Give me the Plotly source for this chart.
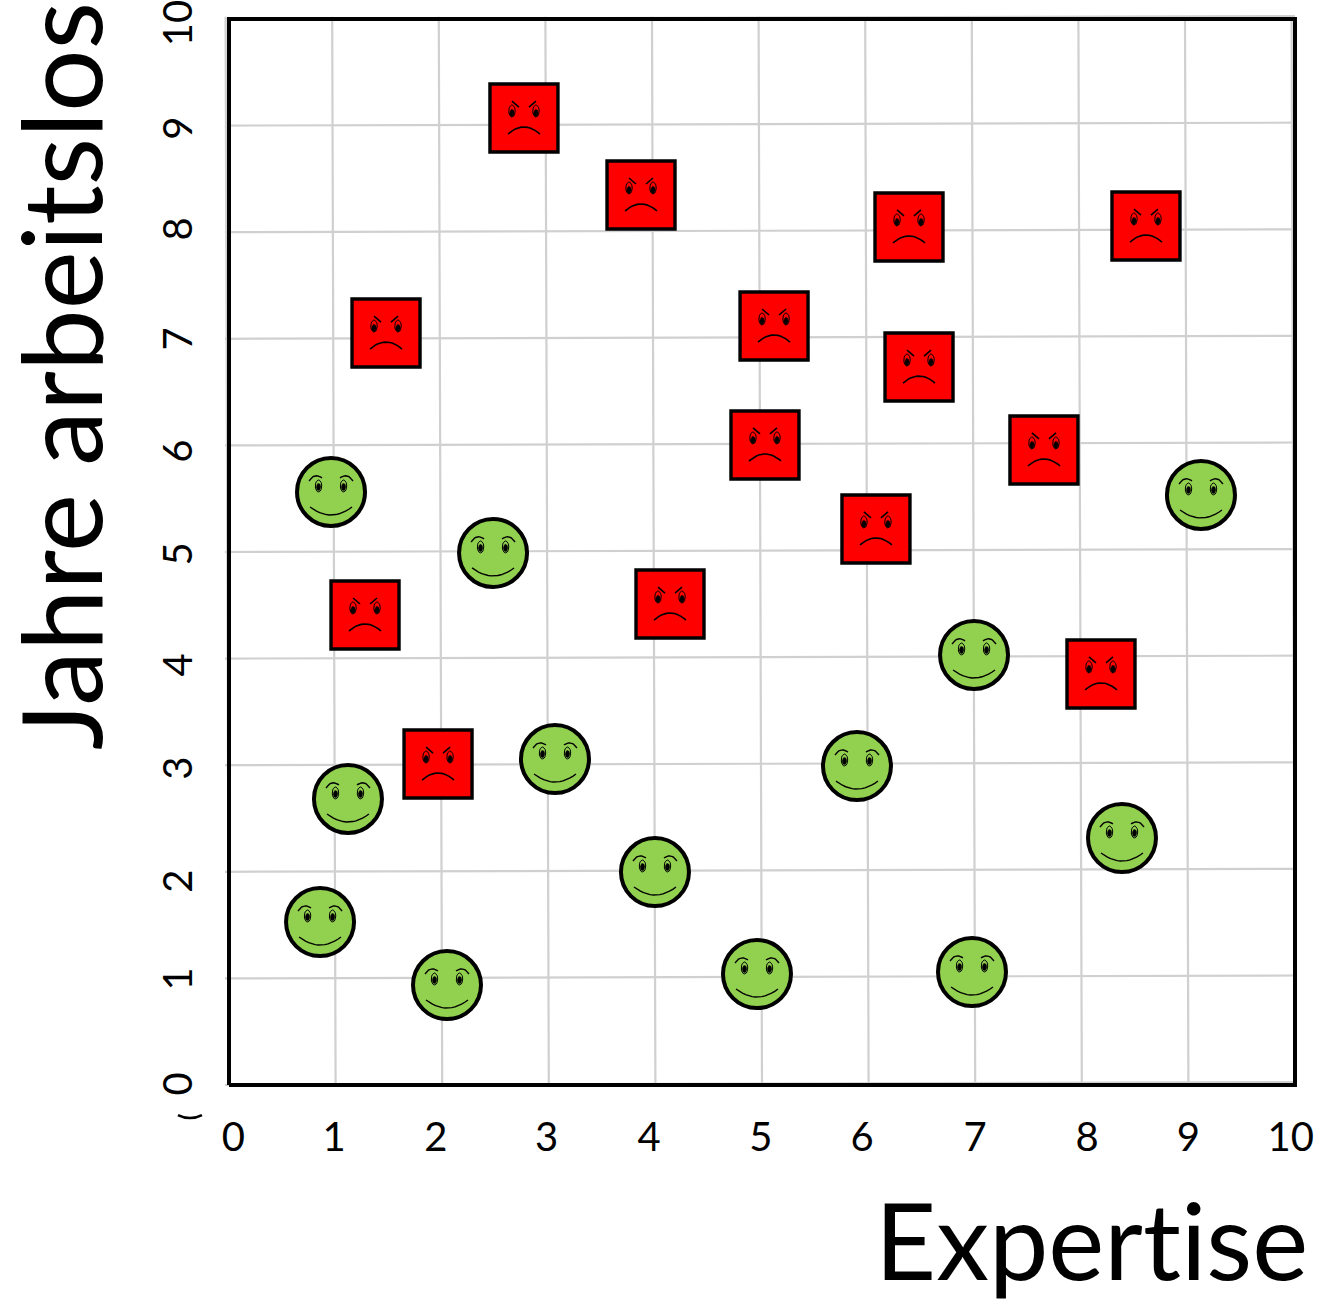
import numpy as np
import plotly.graph_objects as go

bad_x = [2.767, 3.865, 1.473, 6.379, 8.602, 5.113, 6.473, 5.028, 7.645, 6.069, 1.276, 4.137, 8.180, 1.961]
bad_y = [9.071, 8.349, 7.054, 8.049, 8.058, 7.120, 6.735, 6.004, 5.957, 5.216, 4.409, 4.512, 3.856, 3.011]
good_x = [0.957, 2.477, 9.118, 6.989, 5.891, 3.058, 1.116, 8.377, 3.996, 0.854, 2.045, 4.953, 6.970]
good_y = [5.563, 4.991, 5.535, 4.034, 2.992, 3.058, 2.683, 2.317, 1.998, 1.529, 0.938, 1.041, 1.060]

tick_labels = ["0", "1", "2", "3", "4", "5", "6", "7", "8", "9", "10"]
x_tick_pos = [0.04, 0.985, 1.94, 2.98, 3.94, 4.99, 5.94, 7.0, 8.05, 9.0, 9.96]
y_tick_pos = [-0.045, 0.938, 1.857, 2.917, 3.884, 4.925, 5.891, 6.942, 7.974, 8.921, 9.906]
x_title = "Expertise"
y_title = "Jahre arbeitslos"

W, H = 1325, 1302
L, R, T, B = 220, 1300, 12, 1090   # plot area in px
X0, Y0, S = 229, 1085, 106.6       # px position of data origin, px per unit
x_range = [(L - X0) / S, (R - X0) / S]
y_range = [(Y0 - B) / S, (Y0 - T) / S]
TILT = 0.032


def overlay(xs, ys, shapes):
    """shapes: list of (dx, dy) px-offset polylines, replicated at every point."""
    ox, oy = [], []
    for x, y in zip(xs, ys):
        for pts in shapes:
            ox += [x + p[0] / S for p in pts] + [None]
            oy += [y - p[1] / S for p in pts] + [None]
    return ox, oy


def arc(x0, y0, xm, ym, x1, y1, n=14):
    t = np.linspace(0, 1, n)
    cx, cy = 2 * xm - (x0 + x1) / 2, 2 * ym - (y0 + y1) / 2
    return list(zip((1 - t) ** 2 * x0 + 2 * t * (1 - t) * cx + t ** 2 * x1,
                    (1 - t) ** 2 * y0 + 2 * t * (1 - t) * cy + t ** 2 * y1))


def ell(cx, cy, rx, ry, n=20):
    a = np.linspace(0, 2 * np.pi, n)
    return list(zip(cx + rx * np.cos(a), cy + ry * np.sin(a)))


fig = go.Figure()


def lines(x, y, width=1.5, color="black"):
    fig.add_trace(go.Scatter(x=x, y=y, mode="lines", line=dict(color=color, width=width),
                             hoverinfo="skip", showlegend=False, connectgaps=False))


def blobs(x, y, fill, width=1.0):
    fig.add_trace(go.Scatter(x=x, y=y, mode="lines", fill="toself", fillcolor=fill,
                             line=dict(color="black", width=width),
                             hoverinfo="skip", showlegend=False))


# tilted grid
gx, gy = [], []
for k in range(11):
    gx += [k - TILT, k, None]
    gy += [10.02, 0, None]
    gx += [-0.038, 10, None]
    gy += [k, k + TILT * 0.85, None]
lines(gx, gy, 2.2, "#d0d0d0")

# frame
lines([0, 10, 10, 0, 0], [0, 0, 10, 10, 0], 4, "black")

# markers
fig.add_trace(go.Scatter(x=bad_x, y=bad_y, mode="markers", name="bad", showlegend=False,
                         marker=dict(symbol="square", size=68, color="#ff0000",
                                     line=dict(color="black", width=3.4))))
fig.add_trace(go.Scatter(x=good_x, y=good_y, mode="markers", name="good", showlegend=False,
                         marker=dict(symbol="circle", size=68, color="#92d050",
                                     line=dict(color="black", width=4))))

# angry faces
ox, oy = overlay(bad_x, bad_y, [ell(-12, -7, 3.2, 6), ell(12, -7, 3.2, 6)])
blobs(ox, oy, "#ff0000")
ox, oy = overlay(bad_x, bad_y, [ell(-12, -5, 2.2, 3.6), ell(12, -5, 2.2, 3.6)])
blobs(ox, oy, "black", 0.5)
ox, oy = overlay(bad_x, bad_y, [[(-12, -17), (-5, -11)], [(12, -17), (5, -11)],
                                arc(-16, 16, 0, 9, 16, 16)])
lines(ox, oy, 1.6)

# happy faces
ox, oy = overlay(good_x, good_y, [ell(-12.5, -6, 3.2, 6), ell(12.5, -6, 3.2, 6)])
blobs(ox, oy, "#92d050")
ox, oy = overlay(good_x, good_y, [ell(-12.5, -5, 2.2, 3.6), ell(12.5, -5, 2.2, 3.6)])
blobs(ox, oy, "black", 0.5)
ox, oy = overlay(good_x, good_y, [arc(-22, -11, -16, -16, -9, -14), arc(22, -11, 16, -16, 9, -14),
                                  arc(-21, 15, 0, 23, 21, 15)])
lines(ox, oy, 1.4)

fig.update_layout(
    width=W, height=H, autosize=False,
    margin=dict(l=L, r=W - R, t=T, b=H - B, pad=0, autoexpand=False),
    paper_bgcolor="white", plot_bgcolor="white", showlegend=False,
    xaxis=dict(range=x_range, tickmode="array", tickvals=x_tick_pos, ticktext=tick_labels,
               automargin=False,
               showgrid=False, zeroline=False, showline=False, ticks="outside", ticklen=12,
               tickcolor="rgba(0,0,0,0)", tickfont=dict(family="Lato", size=40, color="black")),
    yaxis=dict(range=y_range, tickmode="array", tickvals=y_tick_pos, ticktext=tick_labels,
               automargin=False,
               showgrid=False, zeroline=False, showline=False, ticks="outside", ticklen=11,
               tickcolor="rgba(0,0,0,0)", tickangle=-90, ticklabeloverflow="allow",
               tickfont=dict(family="Lato", size=40, color="black")),
    annotations=[
        dict(text=x_title, xref="paper", yref="paper", x=(1311 - L) / (R - L), xanchor="right",
             y=(B - 1305) / (B - T), yanchor="bottom", showarrow=False,
             font=dict(family="Lato", size=106, color="black")),
        dict(text=y_title, xref="paper", yref="paper", x=(-9 - L) / (R - L), xanchor="left",
             y=(B - 376) / (B - T), yanchor="middle", showarrow=False, textangle=-90,
             font=dict(family="Lato", size=110, color="black")),
    ],
    shapes=[dict(type="path", xref="paper", yref="paper", line=dict(color="black", width=2.5),
                 path="M {:.4f} {:.4f} Q {:.4f} {:.4f} {:.4f} {:.4f}".format(
                     (178 - L) / (R - L), (B - 1115) / (B - T),
                     (190 - L) / (R - L), (B - 1121) / (B - T),
                     (202 - L) / (R - L), (B - 1115) / (B - T)))],
)

fig.write_html("out.html", config=dict(displayModeBar=False),
               post_script="document.body.style.margin='0';document.body.style.overflow='hidden';"
                           "document.head.insertAdjacentHTML('beforeend','<style>svg text{font-variant-ligatures:none !important;font-feature-settings:\"liga\" 0,\"clig\" 0 !important;}</style>');")
